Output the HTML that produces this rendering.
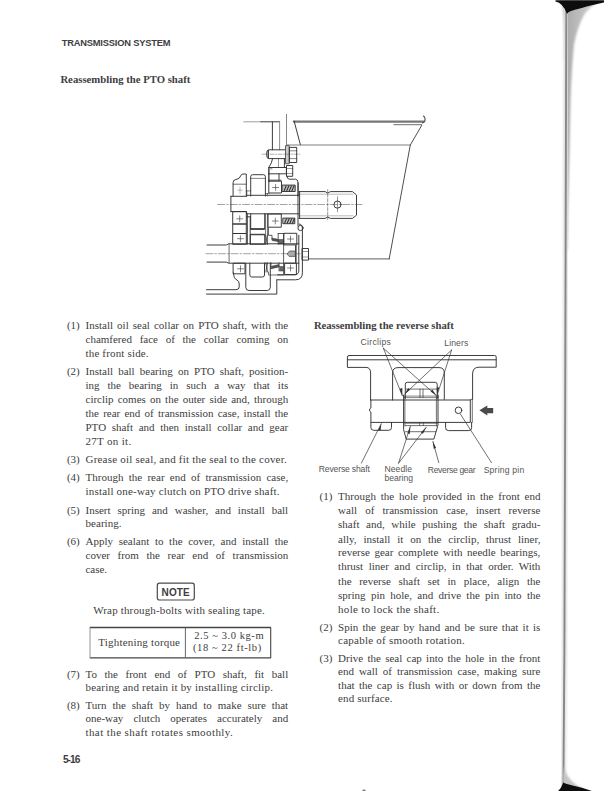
<!DOCTYPE html>
<html><head><meta charset="utf-8"><style>
html,body{margin:0;padding:0;background:#fff;}
body{width:612px;height:791px;position:relative;overflow:hidden;}
.t{position:absolute;line-height:0;white-space:pre;font-family:'Liberation Serif', serif;font-size:11.0px;color:#404040;}
svg{position:absolute;left:0;top:0;}
</style></head><body>
<svg width="612" height="791" viewBox="0 0 612 791">
<g fill="none" stroke="#333" stroke-width="0.95" stroke-linejoin="round" stroke-linecap="round">
<!-- ============ PTO diagram ============ -->
<!-- top-left bracket -->
<path d="M243.8 121.8 H261" stroke="#999"/>
<path d="M261 121.8 H279.6 M272.4 121.8 V149.8" />
<path d="M279.6 121.8 V149.8" stroke="#888"/>
<path d="M286.5 114.4 V145.3" stroke-width="0.6"/>
<!-- housing -->
<path d="M294 121.6 H423.3" stroke="#777" stroke-width="2.4"/>
<path d="M422.5 122.8 Q425.5 122 425 118.5 Q424.6 116.5 423.5 116.2" stroke="#555" stroke-width="1.2"/>
<path d="M393.9 124.7 H421.7" stroke="#666"/>
<path d="M294.1 121 L300.4 144.8" />
<path d="M286.5 145 H410.3" stroke="#777"/>
<path d="M421.7 125.4 L410.3 145 L389.2 258.9" stroke="#444"/>
<path d="M308.9 258.9 H389.4" stroke="#555"/>
<!-- top bolt -->
<path d="M285.9 149.8 H268.6 Q266.6 149.8 266.6 154.2 Q266.6 158.6 268.6 158.6 H285.9" />
<path d="M268.3 150.3 V158.1" stroke-width="1.2"/>
<rect x="285.9" y="145.6" width="3.3" height="18.2" fill="#ccc" stroke="#555"/>
<rect x="289.8" y="147.4" width="6.9" height="15.1" />
<path d="M289.8 150.8 H296.7 M289.8 158.6 H296.7" stroke-width="0.6"/>
<path d="M262 154.2 H300" stroke-width="0.4" stroke-dasharray="4 1.5 1 1.5"/>
<!-- nut below -->
<rect x="286.9" y="165.5" width="5.8" height="10.8" />
<path d="M286.9 168.5 H292.7 M286.9 173.5 H292.7" stroke-width="0.5"/>
<!-- neck / spacer -->
<path d="M272.6 158.6 Q272 163 268.7 167.5 V181.2 M284.4 158.6 V167.5" />
<path d="M268.7 167.5 H286.4 V173.8 H268.7 M279 173.8 V180.2 M268.7 180.2 H281" />
<path d="M278.5 158.6 V167.5" stroke-width="0.5"/>
<!-- upper right bearing & seal -->
<rect x="269.2" y="181.2" width="12.3" height="11.8" />
<path d="M275.6 184.5 V190.5 M272.6 187.5 H278.6" stroke-width="0.6"/>
<rect x="282.5" y="185.1" width="12.7" height="6.4" fill="#bbb"/>
<path d="M284.2 190.6 L286.2 186 M286.8 190.6 L288.8 186 M289.4 190.6 L291.4 186 M292 190.6 L294 186" stroke-width="1.0" stroke="#222"/>
<path d="M286.9 176.3 Q287.2 179.2 289.5 179.2 H295.5 Q298.1 179.2 298.1 183.1 V196" />
<!-- upper-left blocks above shaft -->
<path d="M233.1 196 V182.5 Q233.1 179.8 236 179.5 Q239.8 179 240.6 176 Q241.2 174 243 174 H246.3 V196" />
<path d="M233.1 184.2 H246.3" stroke-width="0.7"/>
<path d="M240 187 V193.5 M237.8 190.2 H242.2" stroke-width="0.5" stroke="#777"/>
<path d="M246.3 190.9 H250.7 M246.8 190.9 V196" stroke-width="0.6"/>
<path d="M250.7 196 V176.7 Q250.7 174.7 252.7 174.7 H263.4 Q265.4 174.7 265.4 176.7 V196" />
<path d="M250.7 178.4 H265.4" stroke-width="0.6"/>
<path d="M265.4 193.5 H269.2 M267.4 193.5 V196" stroke-width="0.6"/>
<path d="M269.2 182 V168.8 H272" stroke-width="0.6"/>
<!-- upper shaft -->
<path d="M230.9 196.3 H246.6 V195.3 H299 M230.9 211.6 H246.6 V213.8 H299 M230.9 196.3 V211.6" />
<path d="M299 191.6 H325.2 L327.7 193.2 L330.3 191.6 H352.5 L356.5 195 V215.2 L352.5 218.4 H330.3 L327.7 217 L325.2 218.4 H299" />
<path d="M299 194.2 H353 M299 215.8 H353" stroke-width="0.5" stroke="#777"/>
<path d="M298 183 V226 M299.6 191.6 V218.4" />
<path d="M327.7 189.6 V220.3" stroke-width="0.5" stroke-dasharray="3 1.5"/>
<circle cx="337.5" cy="204.6" r="3.6" />
<path d="M337.5 196.8 V211.8" stroke-width="0.5"/>
<path d="M217.6 204.5 H362" stroke-width="0.45" stroke-dasharray="7 2 1.5 2"/>
<!-- below upper shaft -->
<rect x="233.1" y="211.6" width="13.2" height="12.4" />
<path d="M239.7 215.8 V221.8 M236.7 218.8 H242.7" stroke-width="0.6"/>
<rect x="233.1" y="224" width="13.2" height="9.5" />
<rect x="233.1" y="233.5" width="13.2" height="10.8" />
<path d="M240.4 235.7 V241.7 M237.4 238.7 H243.4" stroke-width="0.6"/>
<path d="M247.3 213.8 V244.3 M250.2 216.8 V244.3 M246.6 216.8 H250.2" />
<path d="M250.7 213.8 V229 H264.7 V213.8" />
<path d="M250.7 229 H264.7" stroke-width="1.4" stroke-dasharray="0.8 0.8"/>
<path d="M250.7 234.8 H264.7" stroke-width="0.8"/>
<rect x="250.7" y="234.3" width="14" height="10" />
<path d="M265.6 213.8 V244.3 M267.6 213.8 V244.3" stroke-width="0.7"/>
<rect x="268.4" y="214" width="12.9" height="13.2" />
<path d="M275.3 218 V224 M272.3 221 H278.3" stroke-width="0.6"/>
<rect x="283.2" y="218.1" width="11.6" height="5.6" fill="#bbb"/>
<path d="M284.7 223 L286.5 218.8 M287.3 223 L289.1 218.8 M289.9 223 L291.7 218.8 M292.5 223 L294.3 218.8" stroke-width="1.0" stroke="#222"/>
<path d="M268.4 227.6 V235.3 H272 V239.5 L278.2 240.5 M278.2 233.5 H284.2 M278.2 233.5 V244.3" stroke-width="0.8"/>
<path d="M272.3 238.3 L278 239.3 L278.2 241.5 L272.5 240.6 Z" fill="#555" stroke-width="0.6"/>
<path d="M279 239.5 H283.6 V244 H279 Z" fill="#666" stroke-width="0.5"/>
<path d="M265.7 235.3 L267.5 244.3 M267.5 235.3 L265.7 244.3" stroke-width="0.6"/>
<path d="M265.7 262.6 L267.5 272 M267.5 262.6 L265.7 272" stroke-width="0.6"/>
<path d="M283.6 233.5 V274" stroke-width="0.8"/>
<rect x="284.2" y="233.3" width="12.6" height="11.6" />
<path d="M290.5 236 V242 M287.5 239 H293.5" stroke-width="0.6"/>
<!-- lower shaft -->
<path d="M207 245 H226.3 L228.8 243.8 H298.8 M207 262.1 H226.3 L228.8 263.2 H298.8" />
<path d="M229.1 243.8 V263.2" stroke="#666"/>
<path d="M206 253.7 H300" stroke-width="0.45" stroke-dasharray="7 2 1.5 2"/>
<path d="M287.3 253.7 L289.5 251 H295.3 V256.4 H289.5 Z" fill="#aaa" stroke="#444" stroke-width="0.7"/>
<!-- below lower shaft -->
<rect x="233.5" y="263.2" width="11.5" height="10.6" />
<path d="M240.5 265.8 V271.8 M237.5 268.8 H243.5" stroke-width="0.6"/>
<path d="M233.5 272.9 Q233.5 278.6 237 280 Q239.2 281 239.2 284 V287 Q239.2 289.7 236 289.7 H206.5" />
<path d="M206.5 294.1 H276.8 V280" />
<path d="M245.8 263.2 V287.3 Q245.8 290.5 249 290.5 H267.2 Q270.3 290.5 270.3 287.3 V263.2" />
<path d="M249.8 263.2 V275 Q249.8 277 251.8 277 H262.5 Q264.5 277 264.5 275 V263.2" />
<path d="M264.5 263.2 V272 M267 263.2 V272" stroke-width="0.7"/>
<rect x="285" y="263.2" width="11.4" height="11.4" />
<path d="M290.5 265 V271 M287.5 268 H293.5" stroke-width="0.6"/>
<path d="M271 262.6 V268.5 L279 266.5 V262.6" stroke-width="0.7"/>
<path d="M271.3 266.3 L279 264.5 L279 266.8 L271.3 268.6 Z" fill="#555" stroke-width="0.5"/>
<path d="M279.2 266.5 H283.5 V271 H279.2 Z" fill="#666" stroke-width="0.5"/>
<path d="M268.5 272 V275 H283.6" stroke-width="0.7"/>
<!-- cover -->
<path d="M276.8 279.8 H295.5 Q302.4 279.8 302.4 272.8 V228.5 Q302.4 224 299 224" />
<path d="M277.6 274.8 H294.3 Q298.8 274.8 298.8 270.7 V235.3" />
<circle cx="300.5" cy="228" r="2.6" />
<rect x="302.4" y="248.5" width="6.1" height="11.6" />
<path d="M302.4 251.5 H308.5 M302.4 257 H308.5" stroke-width="0.5"/>
<path d="M295.8 245.5 V262.5" stroke-width="1.6" stroke="#444"/>
</g>

<!-- ============ Reverse shaft diagram ============ -->
<g fill="none" stroke="#333" stroke-width="0.95" stroke-linejoin="round" stroke-linecap="round">
<!-- plate -->
<path d="M349 355.5 H494.6 Q496.2 355.5 496.2 357 V367.2 H479 Q472.6 367.2 472.6 374 V399.4" />
<path d="M349 355.5 Q347.4 355.5 347.4 357 V367.4 H366 Q370.6 367.4 370.6 373 V400" />
<path d="M347.6 359.8 H496" />
<path d="M392.6 400 V373 Q392.6 367.6 398 367.6 H439 Q444.3 367.6 444.3 373 V399.4" />
<!-- shaft -->
<path d="M370.6 400 H470.3 V422.4 H370.9 V412 L369.6 411 L369.6 409 L370.9 408 V400" />
<path d="M470.3 399.4 H472.3 V422.4" stroke-width="0.7"/>
<circle cx="458.5" cy="410.3" r="3.3" />
<!-- lugs -->
<path d="M370.9 422.4 V427.5 Q370.9 430.3 373.7 430.3 H388.7 Q391.5 430.3 391.5 427.5 V422.4" />
<path d="M445.6 422.4 V427.7 Q445.6 430.6 448.5 430.6 H468.8 Q471.6 430.6 471.6 427.7 V422.4" />
<!-- gear upper -->
<path d="M405.3 398.4 V384.3 Q405.3 382.3 407.3 382.3 H435.2 Q437.2 382.3 437.2 384.3 V398.4" />
<path d="M406 389.1 H436.5" stroke-width="0.7"/>
<path d="M420 389.1 V397.5 M423 389.1 V397.5" stroke-width="0.7"/>
<path d="M404 396.1 H438.6 M404 397.6 H438.6" stroke-width="0.6"/>
<!-- gear sides -->
<path d="M403.6 395 V429.7 L406.2 439.1 H433.9 L438 425 V395" />
<path d="M404.9 396 V426 M436.4 396 V426" stroke-width="0.7"/>
<path d="M405 423.2 H437.5 M405.3 425.6 H436.5 M405.5 431.7 H435.8" stroke-width="0.7"/>
<path d="M419.6 422.4 V425.6 M423.3 422.4 V425.6" stroke-width="0.6"/>

<!-- leader lines -->
<g stroke-width="0.7">
<path d="M383.4 348.2 L402.2 395.5 M383.4 348.2 L436.2 395.5" />
<path d="M451.6 350 L404.8 394 M451.6 350 L437.2 395" />
<path d="M361.4 463.1 L381.2 423.7" />
<path d="M398.6 463.1 L410.3 426.4 M398.6 463.1 L426.2 427.3" />
<path d="M438.8 462.7 L432.9 441.5" />
<path d="M491.5 462.7 L460.5 414.2" />
</g>
</g>
<g fill="#333" stroke="none">
<path d="M402.4 396.5 L399.6 388.8 L402.3 388 Z" />
<path d="M436.4 395.6 L430.6 391.4 L432.3 389.6 Z" />
<path d="M404.6 394.2 L408.2 387.9 L410 389.7 Z" />
<path d="M437.1 395.3 L436.7 387.3 L439.2 387.6 Z" />
<path d="M381.4 423.4 L380.5 431 L378.2 430 Z" />
<path d="M410.4 426.2 L409.8 434 L407.4 433.3 Z" />
<path d="M426.4 427 L422.9 433.8 L420.9 432.4 Z" />
<path d="M432.8 441.2 L436.1 448.1 L433.7 448.7 Z" />
<!-- big arrow -->
<path d="M479.4 410.3 L487.3 405.4 V408 H493.2 V413.3 H487.3 V415.5 Z" fill="#4a4a4a"/>
</g>
<!-- ============ NOTE box & table ============ -->
<rect x="157.3" y="583.2" width="37" height="16.8" rx="2.2" fill="none" stroke="#4a4a4a" stroke-width="1.2"/>
<g fill="none" stroke="#444">
<path d="M89.8 627.6 H270.9" stroke-width="1.5"/>
<path d="M89.8 657.9 H270.9" stroke-width="1.3"/>
<path d="M90 627.6 V657.9" stroke-width="0.9" stroke="#888"/>
<path d="M270.7 627.6 V657.9" stroke-width="1.1"/>
<path d="M185.4 627.6 V657.9" stroke-width="1.0" stroke="#666"/>
</g>
<ellipse cx="364" cy="790.6" rx="1.6" ry="1" fill="#777"/>
<!-- ============ page edge ============ -->
<defs>
<filter id="bl" x="-50%" y="-5%" width="200%" height="110%"><feGaussianBlur stdDeviation="0.9"/></filter>
<filter id="bl2" x="-50%" y="-50%" width="200%" height="200%"><feGaussianBlur stdDeviation="0.5"/></filter>
<linearGradient id="gw" x1="0" y1="0" x2="1" y2="0">
<stop offset="0" stop-color="#a8a8a8"/><stop offset="1" stop-color="#d8d8d8"/>
</linearGradient>
</defs>
<path d="M563 1 L601 1 Q590 6 584 15 Q577 28 574 45 Q571.5 70 570.6 100 Q569.6 150 568.3 200 L567.3 250 L565.6 250 L565.6 60 Q565 20 563 1 Z" fill="url(#gw)" filter="url(#bl)"/>
<path d="M559.5 1 Q563.5 6 564.3 20 L564.6 60 L565.5 60 L565.8 20 Q565 5 561.5 1 Z" fill="#c8c8c8" filter="url(#bl)"/>
<path d="M566.3 6 L565.9 150 L565.2 400 L564.4 650 L563.4 786" stroke="#e0e0e0" stroke-width="5" fill="none" filter="url(#bl)"/>
<path d="M566.3 6 L565.9 150 L565.2 400 L564.4 650 L563.4 786" stroke="#888" stroke-width="1.9" fill="none" filter="url(#bl2)"/>
<path d="M563.5 765 Q566 781 585 790 L562.5 790 Z" fill="#c4c4c4" filter="url(#bl)"/>
<path d="M555.5 0.3 H604 V2.4 Q598 3.4 593 5 Q580 8.3 571 11 Q567.6 12.2 567 14 Q563 3 555.5 1.6 Z" fill="#111" filter="url(#bl2)"/>
<path d="M557.5 791.8 Q561.5 788 563.3 782.6 C566 784.5 578 786 594 791.8 Z" fill="#111" filter="url(#bl2)"/>
</svg>

<div class="t" style="left:66.9px;top:325.29px;">(1)</div>
<div class="t" style="left:85.5px;top:325.29px;word-spacing:1.34px;">Install oil seal collar on PTO shaft, with the</div>
<div class="t" style="left:85.5px;top:339.19px;word-spacing:4.97px;">chamfered face of the collar coming on</div>
<div class="t" style="left:85.5px;top:353.19px;letter-spacing:0.165px;">the front side.</div>
<div class="t" style="left:66.9px;top:370.99px;">(2)</div>
<div class="t" style="left:85.5px;top:370.99px;word-spacing:2.40px;">Install ball bearing on PTO shaft, position-</div>
<div class="t" style="left:85.5px;top:384.79px;word-spacing:5.18px;">ing the bearing in such a way that its</div>
<div class="t" style="left:85.5px;top:398.99px;word-spacing:1.38px;">circlip comes on the outer side and, through</div>
<div class="t" style="left:85.5px;top:412.79px;word-spacing:1.46px;">the rear end of transmission case, install the</div>
<div class="t" style="left:85.5px;top:426.69px;word-spacing:2.85px;">PTO shaft and then install collar and gear</div>
<div class="t" style="left:85.5px;top:440.89px;letter-spacing:0.312px;">27T on it.</div>
<div class="t" style="left:66.9px;top:459.19px;">(3)</div>
<div class="t" style="left:85.5px;top:459.19px;letter-spacing:0.211px;">Grease oil seal, and fit the seal to the cover.</div>
<div class="t" style="left:66.9px;top:477.19px;">(4)</div>
<div class="t" style="left:85.5px;top:477.19px;word-spacing:2.57px;">Through the rear end of transmission case,</div>
<div class="t" style="left:85.5px;top:491.19px;letter-spacing:0.184px;">install one-way clutch on PTO drive shaft.</div>
<div class="t" style="left:66.9px;top:509.79px;">(5)</div>
<div class="t" style="left:85.5px;top:509.79px;word-spacing:4.17px;">Insert spring and washer, and install ball</div>
<div class="t" style="left:85.5px;top:523.19px;letter-spacing:0.038px;">bearing.</div>
<div class="t" style="left:66.9px;top:541.19px;">(6)</div>
<div class="t" style="left:85.5px;top:541.19px;word-spacing:2.92px;">Apply sealant to the cover, and install the</div>
<div class="t" style="left:85.5px;top:554.89px;word-spacing:4.87px;">cover from the rear end of transmission</div>
<div class="t" style="left:85.5px;top:568.79px;letter-spacing:-0.022px;">case.</div>
<div class="t" style="left:66.9px;top:673.59px;">(7)</div>
<div class="t" style="left:85.5px;top:673.59px;word-spacing:4.80px;">To the front end of PTO shaft, fit ball</div>
<div class="t" style="left:85.5px;top:687.09px;letter-spacing:0.188px;">bearing and retain it by installing circlip.</div>
<div class="t" style="left:66.9px;top:704.89px;">(8)</div>
<div class="t" style="left:85.5px;top:704.89px;word-spacing:3.16px;">Turn the shaft by hand to make sure that</div>
<div class="t" style="left:85.5px;top:718.39px;word-spacing:7.31px;">one-way clutch operates accurately and</div>
<div class="t" style="left:85.5px;top:732.09px;letter-spacing:0.406px;">that the shaft rotates smoothly.</div>
<div class="t" style="left:319.6px;top:496.49px;">(1)</div>
<div class="t" style="left:338.1px;top:496.49px;word-spacing:2.06px;">Through the hole provided in the front end</div>
<div class="t" style="left:338.1px;top:510.49px;word-spacing:5.39px;">wall of transmission case, insert reverse</div>
<div class="t" style="left:338.1px;top:524.49px;word-spacing:3.83px;">shaft and, while pushing the shaft gradu-</div>
<div class="t" style="left:338.1px;top:538.59px;word-spacing:4.10px;">ally, install it on the circlip, thrust liner,</div>
<div class="t" style="left:338.1px;top:552.29px;word-spacing:1.85px;">reverse gear complete with needle bearings,</div>
<div class="t" style="left:338.1px;top:566.29px;word-spacing:2.76px;">thrust liner and circlip, in that order. With</div>
<div class="t" style="left:338.1px;top:580.89px;word-spacing:4.90px;">the reverse shaft set in place, align the</div>
<div class="t" style="left:338.1px;top:594.89px;word-spacing:2.56px;">spring pin hole, and drive the pin into the</div>
<div class="t" style="left:338.1px;top:608.59px;letter-spacing:0.277px;">hole to lock the shaft.</div>
<div class="t" style="left:319.6px;top:626.59px;">(2)</div>
<div class="t" style="left:338.1px;top:626.59px;word-spacing:1.53px;">Spin the gear by hand and be sure that it is</div>
<div class="t" style="left:338.1px;top:639.89px;letter-spacing:0.240px;">capable of smooth rotation.</div>
<div class="t" style="left:319.6px;top:657.59px;">(3)</div>
<div class="t" style="left:338.1px;top:657.59px;word-spacing:1.54px;">Drive the seal cap into the hole in the front</div>
<div class="t" style="left:338.1px;top:671.39px;word-spacing:2.20px;">end wall of transmission case, making sure</div>
<div class="t" style="left:338.1px;top:685.09px;word-spacing:1.67px;">that the cap is flush with or down from the</div>
<div class="t" style="left:338.1px;top:698.39px;letter-spacing:0.105px;">end surface.</div>
<div class="t" style="left:61.7px;top:42.58px;font-family:'Liberation Sans', sans-serif;font-weight:bold;font-size:9.3px;letter-spacing:-0.183px;">TRANSMISSION SYSTEM</div>
<div class="t" style="left:60.4px;top:78.59px;font-family:'Liberation Serif', serif;font-weight:bold;font-size:10.7px;letter-spacing:0.014px;">Reassembling the PTO shaft</div>
<div class="t" style="left:313.9px;top:324.99px;font-family:'Liberation Serif', serif;font-weight:bold;font-size:10.7px;letter-spacing:-0.031px;">Reassembling the reverse shaft</div>
<div class="t" style="left:93.2px;top:610.29px;letter-spacing:0.154px;">Wrap through-bolts with sealing tape.</div>
<div class="t" style="left:98.3px;top:641.59px;letter-spacing:0.184px;">Tightening torque</div>
<div class="t" style="left:194.3px;top:635.96px;font-family:'Liberation Serif', serif;font-weight:normal;font-size:10.5px;letter-spacing:0.563px;">2.5 ~ 3.0 kg-m</div>
<div class="t" style="left:193.0px;top:647.76px;font-family:'Liberation Serif', serif;font-weight:normal;font-size:10.5px;letter-spacing:0.611px;">(18 ~ 22 ft-lb)</div>
<div class="t" style="left:161.6px;top:592.53px;font-family:'Liberation Sans', sans-serif;font-weight:bold;font-size:10.0px;letter-spacing:0.106px;">NOTE</div>
<div class="t" style="left:62.9px;top:760.27px;font-family:'Liberation Sans', sans-serif;font-weight:bold;font-size:10.2px;letter-spacing:-0.964px;">5-16</div>
<div class="t" style="left:360.6px;top:341.72px;font-family:'Liberation Sans', sans-serif;font-weight:normal;font-size:8.6px;letter-spacing:0.290px;color:#555;">Circlips</div>
<div class="t" style="left:444.3px;top:342.92px;font-family:'Liberation Sans', sans-serif;font-weight:normal;font-size:8.6px;letter-spacing:0.099px;color:#555;">Liners</div>
<div class="t" style="left:318.8px;top:469.42px;font-family:'Liberation Sans', sans-serif;font-weight:normal;font-size:8.6px;letter-spacing:-0.169px;color:#555;">Reverse shaft</div>
<div class="t" style="left:384.5px;top:469.42px;font-family:'Liberation Sans', sans-serif;font-weight:normal;font-size:8.6px;letter-spacing:0.053px;color:#555;">Needle</div>
<div class="t" style="left:384.5px;top:478.22px;font-family:'Liberation Sans', sans-serif;font-weight:normal;font-size:8.6px;letter-spacing:-0.029px;color:#555;">bearing</div>
<div class="t" style="left:427.8px;top:469.92px;font-family:'Liberation Sans', sans-serif;font-weight:normal;font-size:8.6px;letter-spacing:-0.345px;color:#555;">Reverse gear</div>
<div class="t" style="left:483.7px;top:469.92px;font-family:'Liberation Sans', sans-serif;font-weight:normal;font-size:8.6px;letter-spacing:0.200px;color:#555;">Spring pin</div>
</body></html>
